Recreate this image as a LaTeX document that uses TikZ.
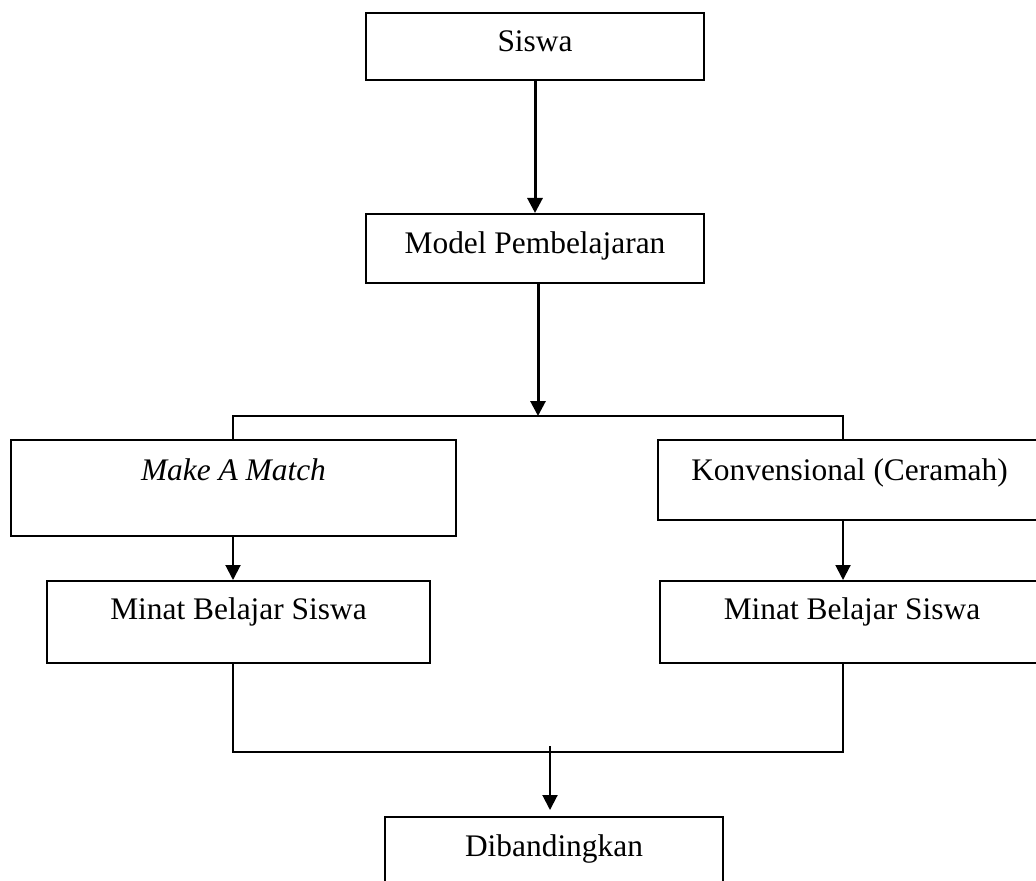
\documentclass[tikz,border=0pt]{standalone}
\usepackage{fontspec}
\setmainfont{Liberation Serif}
\usetikzlibrary{arrows.meta}
\tikzset{
>={Triangle[length=7.5pt,width=7.5pt]},
  blok/.style={
    rectangle,
    draw=black, line width=1pt,
    inner sep=0pt,
    anchor=north west,
    font=\fontsize{15.7}{19}\selectfont},
  garis/.style={draw, line width=1pt},
  panah/.style={draw, line width=1pt, ->},
  panahtebal/.style={draw, line width=1.5pt, ->},
}

\begin{document}
\begin{tikzpicture}
  [x=0.5pt, y=-0.5pt]
     \useasboundingbox (0,0) rectangle (1036,881);
     \clip (0,0) rectangle (1036,881);
     % kolom penghubung
     \coordinate (kiri) at (233,0);
     \coordinate (kanan) at (843,0);
     \coordinate (cabang) at (538,416);
     \coordinate (gabung) at (550,752);
     \node[blok, minimum width=169pt, text height=19.5pt, text depth=14pt] (siswa) at (365,12) {Siswa};
     \node[blok, minimum width=169pt, text height=20pt, text depth=14.5pt] (model) at (365,213) {Model Pembelajaran};
     \node[blok, minimum width=222.5pt, text height=20pt, text depth=28pt] (mam) at (10,439) {\itshape Make A Match};
     \node[blok, minimum width=191.5pt, text height=20pt, text depth=20pt] (konv) at (657,439) {Konvensional (Ceramah)};
     \node[blok, minimum width=191.5pt, text height=19pt, text depth=22pt] (minatA) at (46,580) {Minat Belajar Siswa};
     \node[blok, minimum width=192pt, text height=19pt, text depth=22pt] (minatB) at (659,580) {Minat Belajar Siswa};
     \node[blok, minimum width=169pt, text height=19.5pt, text depth=20pt] (hasil) at (384,816) {Dibandingkan};
     % panah
     \path[panahtebal] (siswa) -- (model);
     \path[panahtebal] (model.south -| cabang) -- (cabang);
     \path[garis] (mam.north -| kiri) |- (cabang) -| (konv.north -| kanan);
     \path[panah] (mam.south -| kiri) -- (minatA.north -| kiri);
     \path[panah] (konv.south -| kanan) -- (minatB.north -| kanan);
     \path[garis] (minatA.south -| kiri) |- (gabung) -| (minatB.south -| kanan);
     \path[panah, shorten >=3pt] ([yshift=3pt]gabung) -- (hasil.north -| gabung);
\end{tikzpicture}
\end{document}
